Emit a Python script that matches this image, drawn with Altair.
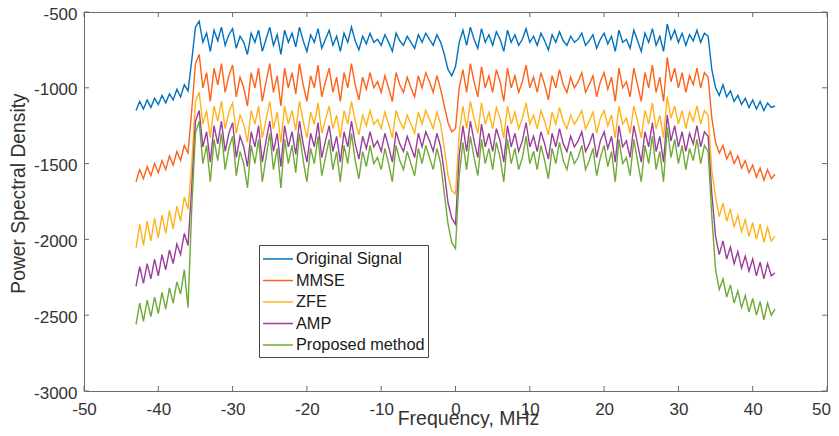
import numpy as np
import pandas as pd
import altair as alt

series_names = ["Original Signal", "MMSE", "ZFE", "AMP", "Proposed method"]
series_colors = ["#0072BD", "#FF6219", "#FFB31A", "#9A3E9A", "#6FAA35"]

# frequency grid, MHz (0.5 MHz steps)
freq = np.round(np.arange(-43, 43.001, 0.5), 2)

# ---- Original Signal ----
orig_left = [-1150, -1090, -1140, -1080, -1130, -1070, -1110, -1050, -1100, -1040, -1080, -1010, -1060, -980, -1020]
orig_edge_l = [-820]
orig_main = [
    -600, -560, -700, -640, -760, -620, -690, -600, -720, -650,
    -610, -740, -660, -700, -780, -640, -700, -620, -760, -680,
    -600, -720, -650, -780, -620, -700, -640, -730, -600, -690,
    -760, -650, -700, -610, -740, -680, -620, -720, -660, -760,
    -640, -700, -600, -690, -750, -660, -710, -640, -700, -680,
    -720, -650, -700, -760, -640, -690, -720, -660, -700, -740,
    -650, -700, -640, -680, -720, -650, -700, -780, -880, -920,
    -860, -700, -620, -720, -600, -680, -740, -610, -700, -650,
    -720, -630, -680, -760, -620, -700, -650, -720, -680, -610,
    -700, -660, -720, -640, -690, -750, -650, -700, -630, -690,
    -720, -660, -700, -680, -640, -720, -690, -650, -740, -680,
    -640, -710, -660, -760, -620, -700, -680, -740, -620, -690,
    -760, -640, -700, -610, -720, -660, -760, -580, -680, -620,
    -700, -640, -720, -650, -690, -620, -700, -640, -660,
]
orig_edge_r = [-880]
orig_right = [-1000, -1050, -980, -1060, -1020, -1090, -1050, -1110, -1070, -1130, -1080, -1140, -1090, -1150, -1100, -1130, -1120]

# ---- MMSE ----
mmse_left = [-1620, -1540, -1600, -1520, -1580, -1500, -1560, -1480, -1540, -1450, -1510, -1420, -1480, -1380, -1430]
mmse_edge_l = [-1150]
mmse_main = [
    -840, -780, -1000, -900, -1090, -870, -980, -840, -1030, -920,
    -850, -1060, -930, -1000, -1120, -900, -1000, -870, -1090, -960,
    -840, -1030, -920, -1120, -870, -1000, -900, -1040, -840, -980,
    -1090, -920, -1000, -850, -1060, -960, -870, -1030, -930, -1090,
    -900, -1000, -840, -980, -1080, -930, -1010, -900, -1000, -960,
    -1030, -920, -1000, -1090, -900, -980, -1030, -930, -1000, -1060,
    -920, -1000, -900, -960, -1030, -920, -1010, -1120, -1230, -1290,
    -1270, -1000, -880, -1030, -840, -960, -1060, -860, -1000, -920,
    -1030, -880, -960, -1090, -870, -1000, -920, -1030, -960, -850,
    -1000, -930, -1030, -900, -980, -1080, -920, -1000, -880, -980,
    -1030, -930, -1000, -960, -900, -1030, -980, -920, -1060, -960,
    -900, -1010, -930, -1090, -870, -1000, -960, -1060, -870, -980,
    -1090, -900, -1000, -850, -1030, -930, -1090, -800, -960, -870,
    -1000, -900, -1030, -920, -980, -870, -1000, -900, -930,
]
mmse_edge_r = [-1200]
mmse_right = [-1360, -1430, -1380, -1470, -1420, -1500, -1450, -1530, -1480, -1560, -1510, -1590, -1530, -1610, -1540, -1600, -1570]

# ---- ZFE ----
zfe_left = [-2060, -1900, -2040, -1880, -2010, -1860, -1990, -1840, -1960, -1810, -1930, -1780, -1880, -1720, -1800]
zfe_edge_l = [-1500]
zfe_main = [
    -1090, -1030, -1240, -1150, -1330, -1120, -1220, -1090, -1270, -1160,
    -1100, -1300, -1180, -1240, -1360, -1150, -1240, -1120, -1330, -1210,
    -1090, -1270, -1160, -1360, -1120, -1240, -1150, -1280, -1090, -1220,
    -1330, -1160, -1240, -1100, -1300, -1210, -1120, -1270, -1180, -1330,
    -1150, -1240, -1090, -1220, -1310, -1180, -1250, -1150, -1240, -1210,
    -1270, -1160, -1240, -1330, -1150, -1220, -1270, -1180, -1240, -1300,
    -1160, -1240, -1150, -1210, -1270, -1160, -1240, -1400, -1580, -1680,
    -1700, -1300, -1120, -1270, -1090, -1200, -1300, -1100, -1240, -1160,
    -1270, -1130, -1200, -1330, -1120, -1240, -1160, -1270, -1200, -1100,
    -1240, -1180, -1270, -1150, -1220, -1310, -1160, -1240, -1130, -1220,
    -1270, -1180, -1240, -1200, -1150, -1270, -1220, -1160, -1300, -1200,
    -1150, -1250, -1180, -1330, -1120, -1240, -1200, -1300, -1120, -1220,
    -1330, -1150, -1240, -1100, -1270, -1180, -1330, -1060, -1200, -1120,
    -1240, -1150, -1270, -1160, -1220, -1120, -1240, -1150, -1180,
]
zfe_edge_r = [-1550]
zfe_right = [-1720, -1850, -1760, -1880, -1800, -1920, -1840, -1950, -1870, -1980, -1890, -2000, -1900, -2020, -1920, -2010, -1980]

# ---- AMP ----
amp_left = [-2310, -2180, -2290, -2160, -2260, -2130, -2240, -2100, -2200, -2070, -2160, -2030, -2100, -1960, -2040]
amp_edge_l = [-1650]
amp_main = [
    -1220, -1150, -1390, -1290, -1490, -1250, -1370, -1220, -1420, -1300,
    -1230, -1460, -1320, -1390, -1520, -1290, -1390, -1250, -1490, -1350,
    -1220, -1420, -1300, -1520, -1250, -1390, -1290, -1440, -1220, -1370,
    -1490, -1300, -1390, -1230, -1460, -1350, -1250, -1420, -1320, -1490,
    -1290, -1390, -1220, -1370, -1470, -1320, -1400, -1290, -1390, -1350,
    -1420, -1300, -1390, -1490, -1290, -1370, -1420, -1320, -1390, -1460,
    -1300, -1390, -1290, -1350, -1420, -1300, -1390, -1560, -1760, -1860,
    -1900, -1450, -1250, -1420, -1220, -1350, -1460, -1240, -1390, -1300,
    -1420, -1270, -1350, -1490, -1250, -1390, -1300, -1420, -1350, -1230,
    -1390, -1320, -1420, -1290, -1370, -1470, -1300, -1390, -1270, -1370,
    -1420, -1320, -1390, -1350, -1290, -1420, -1370, -1300, -1460, -1350,
    -1290, -1400, -1320, -1490, -1250, -1390, -1350, -1460, -1250, -1370,
    -1490, -1290, -1390, -1230, -1420, -1320, -1490, -1180, -1350, -1250,
    -1390, -1290, -1420, -1300, -1370, -1250, -1390, -1290, -1320,
]
amp_edge_r = [-1700]
amp_right = [-1980, -2100, -2010, -2130, -2050, -2160, -2080, -2190, -2110, -2210, -2130, -2240, -2150, -2260, -2160, -2240, -2220]

# ---- Proposed method ----
prop_left = [-2560, -2420, -2540, -2400, -2510, -2380, -2490, -2350, -2460, -2320, -2420, -2280, -2360, -2200, -2450]
prop_edge_l = [-1800]
prop_main = [
    -1300, -1220, -1500, -1380, -1620, -1340, -1480, -1300, -1540, -1400,
    -1320, -1580, -1420, -1500, -1660, -1380, -1500, -1340, -1620, -1460,
    -1300, -1540, -1400, -1660, -1340, -1500, -1380, -1560, -1300, -1480,
    -1620, -1400, -1500, -1320, -1580, -1460, -1340, -1540, -1420, -1620,
    -1380, -1500, -1300, -1480, -1600, -1420, -1520, -1380, -1500, -1460,
    -1540, -1400, -1500, -1620, -1380, -1480, -1540, -1420, -1500, -1580,
    -1400, -1500, -1380, -1460, -1540, -1400, -1500, -1700, -1900, -2020,
    -2060, -1580, -1360, -1540, -1320, -1460, -1580, -1340, -1500, -1400,
    -1540, -1360, -1460, -1620, -1340, -1500, -1400, -1540, -1460, -1320,
    -1500, -1420, -1540, -1380, -1480, -1600, -1400, -1500, -1360, -1480,
    -1540, -1420, -1500, -1460, -1380, -1540, -1480, -1400, -1580, -1460,
    -1380, -1520, -1420, -1620, -1340, -1500, -1460, -1580, -1340, -1480,
    -1620, -1380, -1500, -1320, -1540, -1420, -1620, -1260, -1460, -1340,
    -1500, -1380, -1540, -1400, -1480, -1340, -1500, -1380, -1420,
]
prop_edge_r = [-1850]
prop_right = [-2200, -2330, -2260, -2380, -2300, -2420, -2340, -2450, -2370, -2480, -2390, -2500, -2410, -2530, -2420, -2500, -2460]

series_values = [
    orig_left + orig_edge_l + orig_main + orig_edge_r + orig_right,
    mmse_left + mmse_edge_l + mmse_main + mmse_edge_r + mmse_right,
    zfe_left + zfe_edge_l + zfe_main + zfe_edge_r + zfe_right,
    amp_left + amp_edge_l + amp_main + amp_edge_r + amp_right,
    prop_left + prop_edge_l + prop_main + prop_edge_r + prop_right,
]

x_ticks = [-50, -40, -30, -20, -10, 0, 10, 20, 30, 40, 50]
y_ticks = [-3000, -2500, -2000, -1500, -1000, -500]

rows = []
for k, (name, vals) in enumerate(zip(series_names, series_values)):
    n = min(len(vals), len(freq))
    for i in range(n):
        rows.append({"f": float(freq[i]), "psd": vals[i], "series": name, "k": k})
df = pd.DataFrame(rows)

W, H = 743, 379
AX = "#6b6b6b"
TXT = "#333333"
FONT = "Liberation Sans"

xscale = alt.Scale(domain=[-50, 50], nice=False, zero=False)
yscale = alt.Scale(domain=[-3000, -500], nice=False, zero=False)

lines = alt.Chart(df).mark_line(strokeWidth=1.4, clip=True).encode(
    x=alt.X("f:Q", scale=xscale,
            axis=alt.Axis(values=x_ticks, title="Frequency, MHz", ticks=False, tickSize=0,
                          domain=False, grid=False, labelFontSize=17, labelFont=FONT,
                          labelColor=TXT, labelPadding=10, labelExpr="toString(datum.value)",
                          labelOffset={"condition": {"test": "datum.value == 50", "value": -6}, "value": 0},
                          titleFontSize=19.5, titleFont=FONT, titleFontWeight="normal",
                          titleColor=TXT, titleX=384, titleY=33, titleBaseline="alphabetic",
                          titleAlign="center", labelFlush=False)),
    y=alt.Y("psd:Q", scale=yscale,
            axis=alt.Axis(values=y_ticks, title="Power Spectral Density", ticks=False, tickSize=0,
                          domain=False, grid=False, labelFontSize=17, labelFont=FONT,
                          labelColor=TXT, labelPadding=7, labelExpr="toString(datum.value)",
                          labelOffset=2,
                          titleFontSize=19.3, titleFont=FONT, titleFontWeight="normal",
                          titleColor=TXT, titleX=-60, titleY=181, titleAngle=270,
                          titleBaseline="alphabetic", titleAlign="center", labelFlush=False)),
    color=alt.Color("series:N", sort=series_names,
                    scale=alt.Scale(domain=series_names, range=series_colors),
                    legend=alt.Legend(orient="none", legendX=175, legendY=233, title=None,
                                      symbolType="M-1,0H2", symbolSize=400,
                                      symbolStrokeWidth=1.5, symbolFillColor="transparent",
                                      labelFontSize=16.3, labelFont=FONT, labelColor="#1a1a1a",
                                      labelOffset=12, rowPadding=1.5, padding=3, labelLimit=300,
                                      strokeColor="#444444", fillColor="white")),
    order=alt.Order("k:Q"),
    detail="series:N",
)

tx = pd.DataFrame({"t": x_ticks})
ty = pd.DataFrame({"t": y_ticks})
tick_bottom = alt.Chart(tx).mark_rule(color=AX, strokeWidth=1).encode(
    x=alt.X("t:Q", scale=xscale), y=alt.value(H), y2=alt.value(H - 5))
tick_top = alt.Chart(tx).mark_rule(color=AX, strokeWidth=1).encode(
    x=alt.X("t:Q", scale=xscale), y=alt.value(0), y2=alt.value(5))
tick_left = alt.Chart(ty).mark_rule(color=AX, strokeWidth=1).encode(
    y=alt.Y("t:Q", scale=yscale), x=alt.value(0), x2=alt.value(5))
tick_right = alt.Chart(ty).mark_rule(color=AX, strokeWidth=1).encode(
    y=alt.Y("t:Q", scale=yscale), x=alt.value(W), x2=alt.value(W - 5))

chart = alt.layer(tick_bottom, tick_top, tick_left, tick_right, lines).properties(
    width=W, height=H,
    autosize=alt.AutoSizeParams(type="none"),
    padding={"left": 76, "top": 4, "right": 4, "bottom": 37},
    background="white",
).configure_view(stroke=AX, strokeWidth=1)

chart.save("out.html", embed_options={"renderer": "svg", "actions": False})
